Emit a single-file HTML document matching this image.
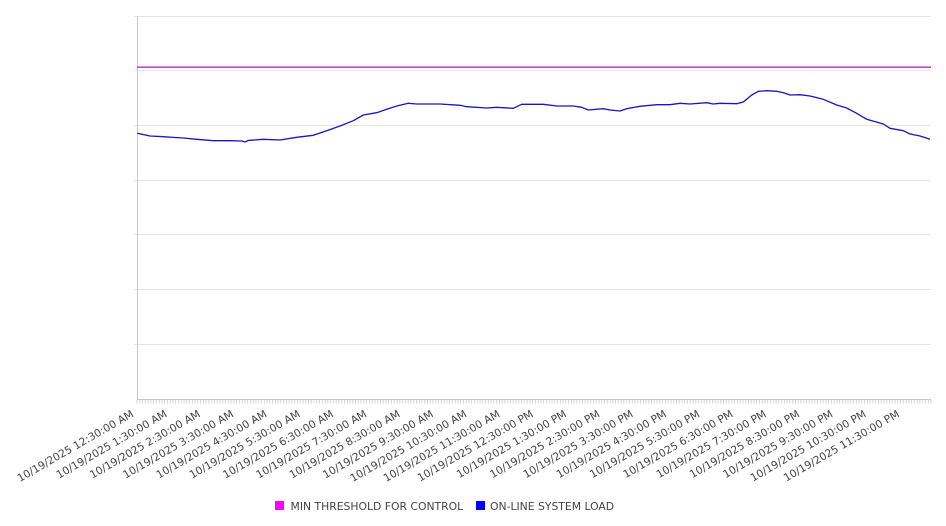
<!DOCTYPE html>
<html>
<head>
<meta charset="utf-8">
<style>
  html,body{margin:0;padding:0;background:#fff;}
  body{width:946px;height:526px;overflow:hidden;}
  svg{display:block;}
  text{font-family:"DejaVu Sans","Liberation Sans",sans-serif;fill:#444;}
</style>
</head>
<body>
<svg width="946" height="526" viewBox="0 0 946 526" xmlns="http://www.w3.org/2000/svg">
  <!-- gridlines -->
  <g stroke="#e6e6e6" stroke-width="1" shape-rendering="crispEdges">
    <line x1="134" y1="16.5" x2="931" y2="16.5"/>
    <line x1="134" y1="70.5" x2="931" y2="70.5"/>
    <line x1="134" y1="125.5" x2="931" y2="125.5"/>
    <line x1="134" y1="180.5" x2="931" y2="180.5"/>
    <line x1="134" y1="234.5" x2="931" y2="234.5"/>
    <line x1="134" y1="289.5" x2="931" y2="289.5"/>
    <line x1="134" y1="344.5" x2="931" y2="344.5"/>
  </g>
  <!-- axes -->
  <g stroke="#c8c8c8" stroke-width="1" shape-rendering="crispEdges">
    <line x1="137.5" y1="16" x2="137.5" y2="399"/>
    <line x1="137" y1="399.5" x2="931" y2="399.5"/>
  </g>
  <!-- x ticks -->
  <path id="ticks" stroke="#c8c8c8" stroke-width="0.8" fill="none" d=""/>
  <!-- threshold line -->
  <line x1="137" y1="67.2" x2="931" y2="67.2" stroke="#c81ed2" stroke-width="1.3"/>
  <!-- load line -->
  <polyline fill="none" stroke="#1616c4" stroke-width="1.3" stroke-linejoin="round" points="
137.3,133.3 150,136 163.3,136.7 175,137.5 183.3,138 196.7,139.3 213.3,140.7 230,140.7 242,141 245,142 248,140.5 250,140.3 263.3,139.3 280,140 296.7,137.3 313.3,135.3 320,133 326.7,130.7 340,126 353.3,120.7 363.3,115 376.7,112.7 386.7,109.3 396.7,106 408.3,103.3 416.7,104 440,104 460,105.3 466.7,106.7 486.7,108 496.7,107.3 513.3,108.3 521.7,104.3 543.3,104.3 556.7,106 573.3,106 581.7,107.3 588.3,110 603.3,108.7 610,110 620,111 626.7,108.7 640,106.3 656.7,104.7 670,104.7 680,103.3 690,104 706.7,102.7 713.3,104 720,103.3 736.7,103.7 743.3,102 751.7,95 758.3,91.3 766.7,90.7 776.7,91.3 783.3,92.7 790,95 800,94.7 810,96 823.3,99.3 836.7,105 846.7,108 856.7,113.3 866.7,119.3 883.3,124 890,128.3 903.3,130.7 910,134 920,136 930,139.3"/>
  <!-- x labels -->
  <g id="xlabels" font-size="10.65" text-anchor="end"></g>
  <!-- legend -->
  <rect x="275" y="501" width="9" height="9" fill="#ff00ff"/>
  <text x="290.5" y="510" font-size="10.8">MIN THRESHOLD FOR CONTROL</text>
  <rect x="476" y="501" width="9" height="9" fill="#0000ff"/>
  <text x="490" y="510" font-size="10.8">ON-LINE SYSTEM LOAD</text>
</svg>
<script>
(function(){
  var d="";
  var n=288, x0=137, x1=931;
  for(var i=0;i<n;i++){
    var x=x0+i*(x1-x0)/(n-1);
    d+="M"+x.toFixed(2)+" 399.5V403.5";
  }
  document.getElementById("ticks").setAttribute("d",d);
  var hours=["12","1","2","3","4","5","6","7","8","9","10","11"];
  var g=document.getElementById("xlabels");
  var ns="http://www.w3.org/2000/svg";
  for(var k=0;k<24;k++){
    var h=hours[k%12];
    var ap=k<12?"AM":"PM";
    var label="10/19/2025 "+h+":30:00 "+ap;
    var xe=134.5+k*33.29, ye=416;
    var t=document.createElementNS(ns,"text");
    t.setAttribute("x",xe.toFixed(2));
    t.setAttribute("y",ye);
    t.setAttribute("transform","rotate(-30 "+xe.toFixed(2)+" "+ye+")");
    t.textContent=label;
    g.appendChild(t);
  }
})();
</script>
</body>
</html>
